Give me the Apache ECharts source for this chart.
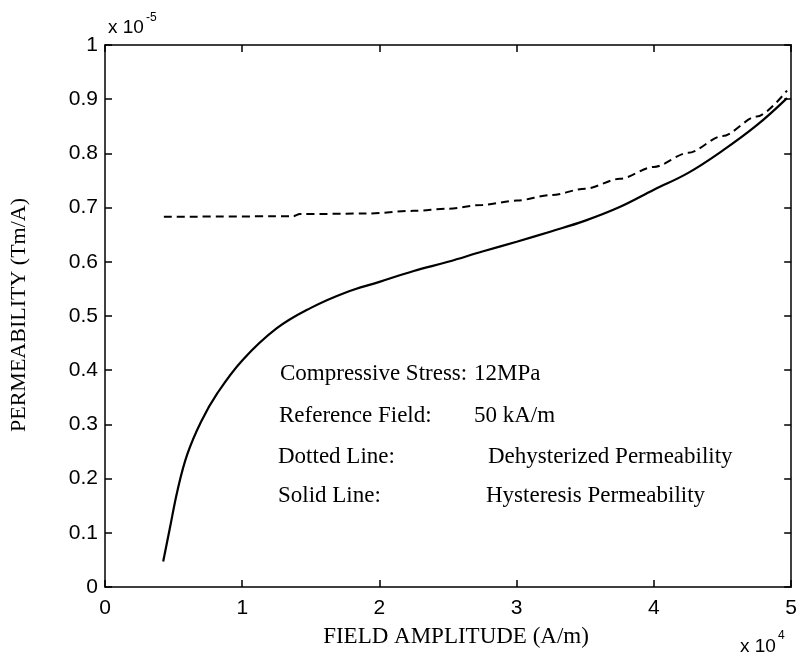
<!DOCTYPE html>
<html>
<head>
<meta charset="utf-8">
<script src="https://cdn.jsdelivr.net/npm/echarts@6/dist/echarts.min.js"></script>
<style>
html,body{margin:0;padding:0;background:#fff;}
#chart{width:800px;height:661px;}
</style>
</head>
<body>
<div id="chart"></div>
<script>
// Field amplitude (x 10^4 A/m) and permeability (x 10^-5 Tm/A)
var solidX = [0.424, 0.470, 0.530, 0.600, 0.700, 0.820, 1.000, 1.250, 1.500, 1.750, 2.000, 2.250, 2.500, 2.750, 3.000, 3.250, 3.500, 3.750, 4.000, 4.250, 4.500, 4.750, 4.970];
var solidY = [0.047, 0.105, 0.180, 0.245, 0.305, 0.358, 0.418, 0.477, 0.515, 0.543, 0.563, 0.583, 0.600, 0.619, 0.637, 0.656, 0.676, 0.701, 0.733, 0.764, 0.805, 0.852, 0.902];
var dashX = [0.429, 1.370, 1.420, 1.900, 2.250, 2.500, 2.750, 3.000, 3.250, 3.500, 3.750, 4.000, 4.250, 4.500, 4.750, 4.970];
var dashY = [0.683, 0.684, 0.688, 0.689, 0.694, 0.698, 0.705, 0.713, 0.723, 0.735, 0.753, 0.775, 0.801, 0.832, 0.868, 0.916];
var xTicks = [0, 1, 2, 3, 4, 5];
var yTicks = [0, 0.1, 0.2, 0.3, 0.4, 0.5, 0.6, 0.7, 0.8, 0.9, 1];
var annoLeft = ['Compressive Stress:', 'Reference Field:', 'Dotted Line:', 'Solid Line:'];
var annoRight = ['12MPa', '50 kA/m', 'Dehysterized Permeability', 'Hysteresis Permeability'];

function zip(a, b) { return a.map(function (v, i) { return [v, b[i]]; }); }

var sans = 'Liberation Sans';
var serif = 'Liberation Serif';
var axisCommon = {
  type: 'value',
  axisLine: { show: true, onZero: false, lineStyle: { color: '#000', width: 1.5 } },
  axisTick: { show: true, inside: true, length: 7, lineStyle: { color: '#000', width: 1.5 } },
  splitLine: { show: false }
};

var chart = echarts.init(document.getElementById('chart'), null, { renderer: 'canvas' });
var annoY = [374, 416, 457, 496];
var annoLX = [280, 279, 278, 278];
var annoRX = [474, 474, 488, 486];
var graphics = [];
annoLeft.forEach(function (t, i) {
  graphics.push({ type: 'text', x: annoLX[i], y: annoY[i], style: { text: t, font: '23px ' + serif, fill: '#000', verticalAlign: 'middle' } });
  graphics.push({ type: 'text', x: annoRX[i], y: annoY[i], style: { text: annoRight[i], font: '23px ' + serif, fill: '#000', verticalAlign: 'middle' } });
});
graphics.push({ type: 'text', x: 108, y: 37, style: { text: 'x 10', font: '19px ' + sans, fill: '#000', verticalAlign: 'bottom' } });
graphics.push({ type: 'text', x: 146, y: 24, style: { text: '-5', font: '12px ' + sans, fill: '#000', verticalAlign: 'bottom' } });
graphics.push({ type: 'text', x: 740, y: 656, style: { text: 'x 10', font: '19px ' + sans, fill: '#000', verticalAlign: 'bottom' } });
graphics.push({ type: 'text', x: 778, y: 642, style: { text: '4', font: '12px ' + sans, fill: '#000', verticalAlign: 'bottom' } });
graphics.push({ type: 'text', x: 456, y: 637, style: { text: 'FIELD AMPLITUDE (A/m)', font: '23px ' + serif, fill: '#000', align: 'center', verticalAlign: 'middle' } });
graphics.push({ type: 'text', x: 19, y: 315, rotation: Math.PI / 2, style: { text: 'PERMEABILITY (Tm/A)', font: '22px ' + serif, fill: '#000', align: 'center', verticalAlign: 'middle' } });

chart.setOption({
  animation: false,
  backgroundColor: '#fff',
  grid: { left: 105, top: 45, width: 688, height: 542, containLabel: false },
  xAxis: [
    Object.assign({}, axisCommon, {
      position: 'bottom', min: 0, max: 5, interval: 1,
      axisLabel: { show: true, color: '#000', fontFamily: sans, fontSize: 21, margin: 11, formatter: function (v) { return xTicks.indexOf(v) >= 0 ? String(v) : ''; } }
    }),
    Object.assign({}, axisCommon, {
      position: 'top', min: 0, max: 5, interval: 1, axisLabel: { show: false }
    })
  ],
  yAxis: [
    Object.assign({}, axisCommon, {
      position: 'left', min: 0, max: 1, interval: 0.1,
      axisLabel: { show: true, color: '#000', fontFamily: sans, fontSize: 21, margin: 7, formatter: function (v) { var r = Math.round(v * 10) / 10; return yTicks.indexOf(r) >= 0 ? String(r) : ''; } }
    }),
    Object.assign({}, axisCommon, {
      position: 'right', min: 0, max: 1, interval: 0.1, axisLabel: { show: false }
    })
  ],
  series: [
    { type: 'line', xAxisIndex: 0, yAxisIndex: 0, data: zip(dashX, dashY), showSymbol: false, smooth: 0.3, smoothMonotone: 'x', lineStyle: { color: '#000', width: 2, type: [8, 5] } },
    { type: 'line', xAxisIndex: 0, yAxisIndex: 0, data: zip(solidX, solidY), showSymbol: false, smooth: 0.4, lineStyle: { color: '#000', width: 2.2 } }
  ],
  graphic: graphics
});
</script>
</body>
</html>
